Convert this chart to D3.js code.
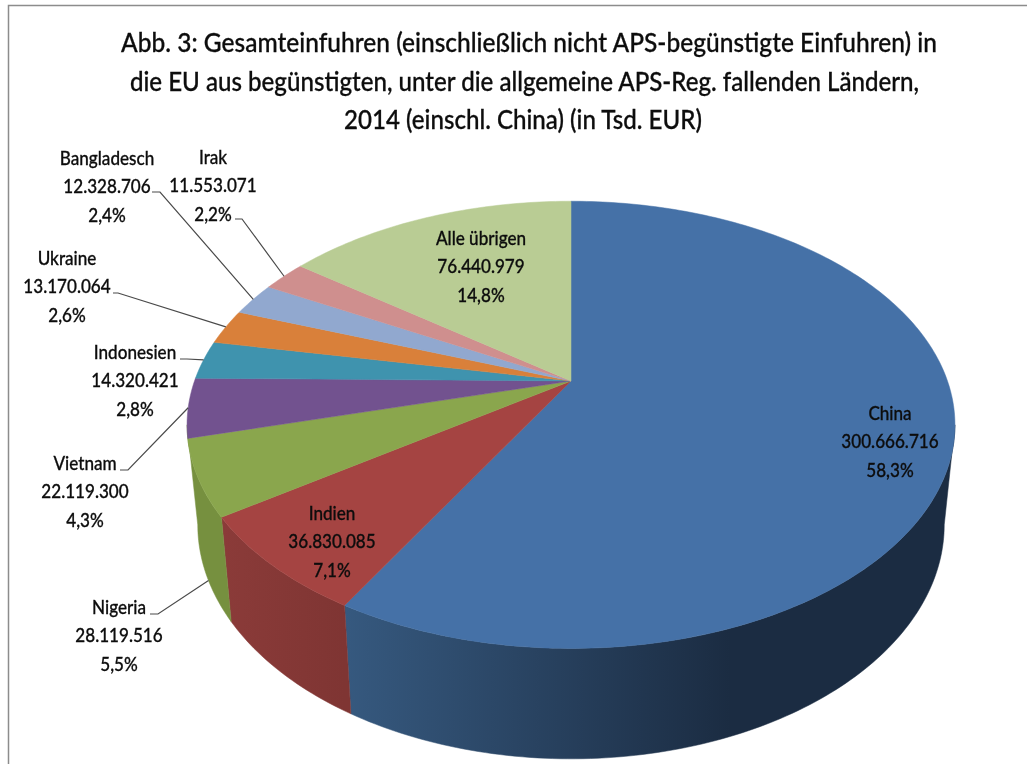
<!DOCTYPE html>
<html>
<head>
<meta charset="utf-8">
<script src="https://cdn.jsdelivr.net/npm/d3@7"></script>
<style>
  html, body { margin: 0; background: #fff; }
  svg { filter: blur(0.4px); }
  text { font-family: Lato, "Open Sans", sans-serif; fill: #0d0d0d; font-weight: 500; stroke: #0d0d0d; stroke-width: 0.3px; }
</style>
</head>
<body>
<div id="chart"></div>
<script>
// data
var titleLines = [
    "Abb. 3: Gesamteinfuhren (einschließlich nicht APS-begünstigte Einfuhren) in",
    "die EU aus begünstigten, unter die allgemeine APS-Reg. fallenden Ländern,",
    "2014 (einschl. China) (in Tsd. EUR)"
];
var countries = ["China", "Indien", "Nigeria", "Vietnam", "Indonesien", "Ukraine", "Bangladesch", "Irak", "Alle übrigen"];
var values = [300666716, 36830085, 28119516, 22119300, 14320421, 13170064, 12328706, 11553071, 76440979];
var valueLabels = ["300.666.716", "36.830.085", "28.119.516", "22.119.300", "14.320.421", "13.170.064", "12.328.706", "11.553.071", "76.440.979"];
var shares = ["58,3%", "7,1%", "5,5%", "4,3%", "2,8%", "2,6%", "2,4%", "2,2%", "14,8%"];

// styles and layout, one entry per country
var topColors = ["#4571a7", "#a54442", "#8aa64d", "#72528f", "#3f93ae", "#d9803a", "#91a8cf", "#cf8f8e", "#b9cc94"];
var wallLeft = ["#36597f", "#8b3b39", "#76903f", "#5f4478", "#357a90", "#b56a30", "#7a8cad", "#ad7776", "#9aab7b"];
var wallRight = ["#1b2c42", "#7f3533", "#76903f", "#5f4478", "#357a90", "#b56a30", "#7a8cad", "#ad7776", "#9aab7b"];
var labelX = [890, 332, 119, 85, 135, 67, 107, 213, 481];
var labelY = [413, 513, 607, 463, 352, 258, 158, 157, 238];
var leaderStart = [null, null, [150, 614, 158], [120, 470, 128], [180, 359, 187], [113, 293, 118], [152, 192, 160], [235, 219, 242], null];
var titleX = [529, 524.5, 523];
var titleScale = [0.925, 0.91, 0.91];

var width = 1027, height = 764;

var svg = d3.select("#chart").append("svg")
    .attr("width", width)
    .attr("height", height)
    .style("display", "block");

// frame of the chart area
svg.append("path")
    .attr("d", "M8.5,764V5.5H1027")
    .attr("fill", "none")
    .attr("stroke", "#8c8c8c")
    .attr("stroke-width", 1.5);

var pie = d3.pie().sort(null).value(function(d) { return d; });
var arcs = pie(values);

// perspective of the disc, k is the foreshortening towards the viewer
var cx = 571, k = 0.196;
function project(angle, a, y0, b) {
    var u = Math.sin(angle), v = -Math.cos(angle), w = 1 - k * v;
    return [cx + a * u / w, y0 + b * v / w];
}
function topEdge(angle) { return project(angle, 376.5, 381, 215); }
function bottomEdge(angle) { return project(angle, 366, 479, 225); }

var line = d3.line();
function samples(a0, a1) {
    var n = Math.max(2, Math.ceil(Math.abs(a1 - a0) * 60));
    return d3.range(n + 1).map(function(i) { return a0 + (a1 - a0) * i / n; });
}

var defs = svg.append("defs");

// side wall, only the part turned to the viewer
var visFrom = Math.acos(-k), visTo = 2 * Math.PI - visFrom;
var walls = arcs.filter(function(d) { return (d.startAngle + d.endAngle) / 2 < visTo; });
walls.forEach(function(d, i) {
    var a0 = Math.max(d.startAngle, visFrom);
    var a1 = i == walls.length - 1 ? visTo : d.endAngle;
    var xLeft = topEdge(a1)[0], xRight = topEdge(a0)[0];
    var grad = defs.append("linearGradient")
        .attr("id", "wall" + i)
        .attr("gradientUnits", "userSpaceOnUse")
        .attr("x1", xLeft).attr("x2", i == 0 ? 730 : xRight)
        .attr("y1", 0).attr("y2", 0);
    grad.append("stop").attr("offset", 0).attr("stop-color", wallLeft[i]);
    grad.append("stop").attr("offset", 1).attr("stop-color", wallRight[i]);
    var angles = samples(a0, a1);
    var pts = angles.map(topEdge).concat(angles.slice().reverse().map(bottomEdge));
    svg.append("path")
        .attr("d", line(pts) + "Z")
        .attr("fill", "url(#wall" + i + ")")
        .attr("stroke", "url(#wall" + i + ")")
        .attr("stroke-width", 0.5);
});

// top face
arcs.forEach(function(d, i) {
    var pts = [[cx, 381]].concat(samples(d.startAngle, d.endAngle).map(topEdge));
    svg.append("path")
        .attr("d", line(pts) + "Z")
        .attr("fill", topColors[i])
        .attr("stroke", topColors[i])
        .attr("stroke-width", 0.5);
});

// leader lines
arcs.forEach(function(d, i) {
    if (!leaderStart[i]) return;
    var mid = (d.startAngle + d.endAngle) / 2;
    // Nigeria points at the wall, the others at the top edge
    var end = countries[i] == "Nigeria" ? bottomEdge(mid) : topEdge(mid);
    var s = leaderStart[i];
    svg.append("path")
        .attr("d", line([[s[0], s[1]], [s[2], s[1]], end]))
        .attr("fill", "none")
        .attr("stroke", "#4a4a4a")
        .attr("stroke-width", 1.2);
});

function squeezed(x, y, size, sx, str) {
    return svg.append("text")
        .attr("transform", "translate(" + x + "," + y + ") scale(" + sx + ",1)")
        .attr("text-anchor", "middle")
        .style("font-size", size + "px")
        .text(str);
}

// title
titleLines.forEach(function(t, i) {
    squeezed(titleX[i], 52 + i * 38.5, 26.5, titleScale[i], t);
});

// labels
countries.forEach(function(c, i) {
    [c, valueLabels[i], shares[i]].forEach(function(t, j) {
        squeezed(labelX[i], labelY[i] + 6.5 + j * 28.5, 19, 0.9, t);
    });
});
</script>
</body>
</html>
